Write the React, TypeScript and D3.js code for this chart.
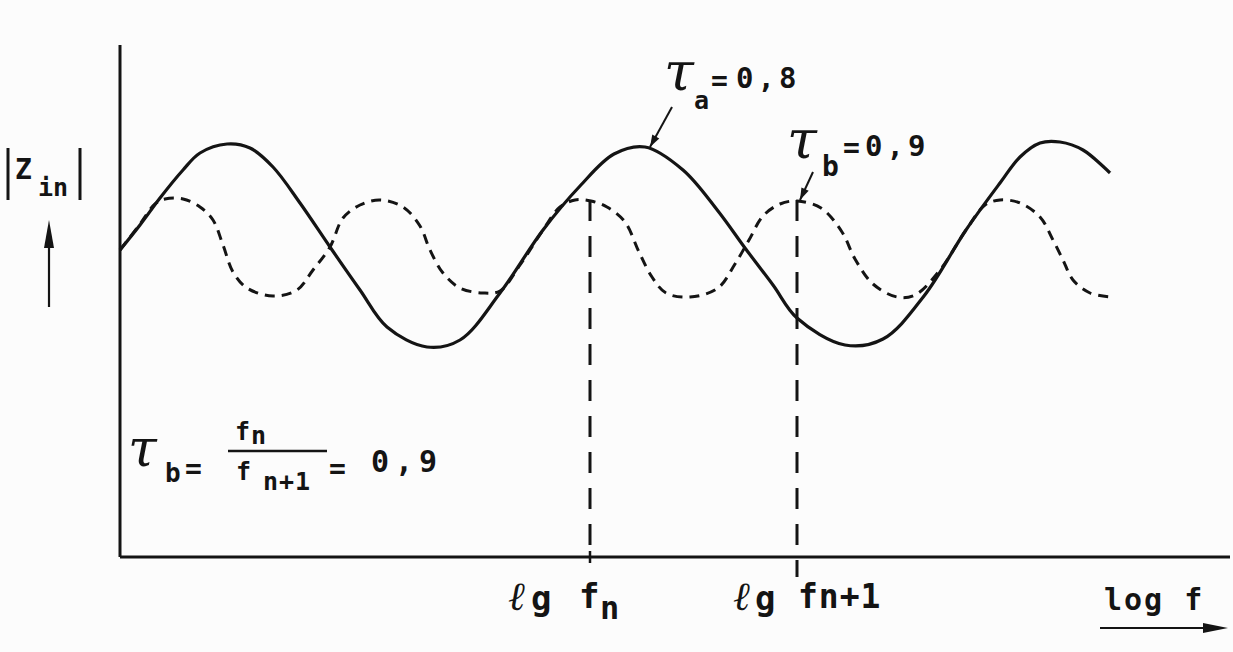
import React from "react";
import * as d3 from "d3";

// x: log f (arbitrary units), y: |Z_in| (arbitrary units)
const solidCurve: [number, number][] = [
  [0, 307], [20, 332], [40, 359], [63, 387], [80, 404], [107, 413], [130, 409], [153, 390],
  [180, 354], [210, 310], [240, 267], [267, 230], [307, 210], [340, 217], [380, 264], [423, 327],
  [460, 371], [494, 403], [525, 410], [563, 387], [598, 346], [625, 309], [653, 272], [677, 239],
  [725, 212], [763, 218], [804, 261], [846, 327], [880, 374], [900, 400], [920, 414], [940, 415],
  [963, 407], [990, 384],
];

const dashedCurve: [number, number][] = [
  [0, 307], [20, 333], [35, 353], [45, 358], [63, 358], [80, 350], [93, 337], [103, 312],
  [113, 285], [127, 269], [153, 261], [177, 267], [193, 287], [210, 310], [223, 339], [240, 352],
  [260, 357], [283, 350], [300, 331], [310, 307], [323, 284], [340, 269], [363, 264], [380, 266],
  [400, 292], [423, 327], [440, 350], [455, 357], [471, 356], [487, 350], [505, 335], [519, 305],
  [532, 280], [546, 264], [570, 260], [598, 269], [615, 293], [629, 317], [643, 341], [660, 353],
  [677, 356], [701, 349], [722, 325], [735, 298], [753, 273], [777, 260], [795, 262], [820, 287],
  [846, 327], [865, 352], [880, 357], [900, 354], [920, 340], [933, 317], [943, 297], [953, 277],
  [970, 264], [990, 260],
];

const fnX = 470;      // lg fn
const fn1X = 677;     // lg fn+1
const peakDashed = 357;

const xDomain = [0, 1110];
const yDomain = [0, 512];

const INK = "#141414";

function arrowHead(x1: number, y1: number, x2: number, y2: number, len: number, half: number) {
  const a = Math.atan2(y2 - y1, x2 - x1);
  const bx = x2 - len * Math.cos(a);
  const by = y2 - len * Math.sin(a);
  const px = -Math.sin(a) * half;
  const py = Math.cos(a) * half;
  return `M${x2},${y2}L${bx + px},${by + py}L${bx - px},${by - py}Z`;
}

export default function App() {
  const x = d3.scaleLinear().domain(xDomain).range([120, 1230]);
  const y = d3.scaleLinear().domain(yDomain).range([557, 45]);

  const line = d3
    .line<[number, number]>()
    .x((d) => x(d[0]))
    .y((d) => y(d[1]))
    .curve(d3.curveCatmullRom.alpha(0.5));

  const mono = "'DejaVu Sans Mono', monospace";
  const tauFont = "'DejaVu Serif', serif";
  const T = { fontFamily: mono, fontWeight: "bold" as const, fill: INK };
  const L = { fontFamily: tauFont, fontStyle: "italic" as const, fill: INK };

  // leader lines (data units)
  const la = { x1: x(552), y1: y(450), x2: x(530), y2: y(410) };
  const lb = { x1: x(693), y1: y(385), x2: x(680), y2: y(357) };

  return (
    <svg
      width={1233}
      height={652}
      style={{ position: "absolute", left: 0, top: 0, background: "#fcfcfc" }}
    >
      {/* axes */}
      <line x1={x(0)} y1={y(0)} x2={x(0)} y2={y(512)} stroke={INK} strokeWidth={3} />
      <line x1={x(0)} y1={y(0)} x2={x(1110)} y2={y(0)} stroke={INK} strokeWidth={3} />
      {/* tick at fn */}
      <line x1={x(fnX)} y1={y(0) - 6} x2={x(fnX)} y2={y(0) + 6} stroke={INK} strokeWidth={2.5} />

      {/* vertical reference lines */}
      <line
        x1={x(fnX)} y1={y(peakDashed)} x2={x(fnX)} y2={y(0)}
        stroke={INK} strokeWidth={3} strokeDasharray="21,15"
      />
      <line
        x1={x(fn1X)} y1={y(peakDashed)} x2={x(fn1X)} y2={y(0) + 20}
        stroke={INK} strokeWidth={3} strokeDasharray="21,15"
      />

      {/* curves */}
      <path d={line(dashedCurve) || ""} fill="none" stroke={INK} strokeWidth={3} strokeDasharray="10,7" />
      <path d={line(solidCurve) || ""} fill="none" stroke={INK} strokeWidth={3.2} />

      {/* leaders */}
      <line x1={la.x1} y1={la.y1} x2={la.x2} y2={la.y2} stroke={INK} strokeWidth={2} />
      <path d={arrowHead(la.x1, la.y1, la.x2, la.y2, 12, 4)} fill={INK} />
      <line x1={lb.x1} y1={lb.y1} x2={lb.x2} y2={lb.y2} stroke={INK} strokeWidth={2} />
      <path d={arrowHead(lb.x1, lb.y1, lb.x2, lb.y2, 12, 4)} fill={INK} />

      {/* y-axis label |Z in| */}
      <line x1={8} y1={148} x2={8} y2={200} stroke={INK} strokeWidth={3} />
      <line x1={80} y1={148} x2={80} y2={200} stroke={INK} strokeWidth={3} />
      <text x={15} y={179} fontSize={28} {...T}>Z</text>
      <text x={38} y={196} fontSize={25} {...T}>in</text>
      <line x1={49} y1={307} x2={49} y2={240} stroke={INK} strokeWidth={2.2} />
      <path d="M44,248L49,220L54,248Z" fill={INK} />

      {/* tau_a = 0,8 */}
      <text x={664} y={90} fontSize={54} {...L}>τ</text>
      <text x={694} y={109} fontSize={25} {...T}>a</text>
      <text x={711} y={90} fontSize={28} {...T}>=</text>
      <text x={736} y={88} fontSize={29} letterSpacing={4} {...T}>0,8</text>

      {/* tau_b = 0,9 */}
      <text x={787} y={158} fontSize={54} {...L}>τ</text>
      <text x={822} y={176} fontSize={28} {...T}>b</text>
      <text x={843} y={157} fontSize={28} {...T}>=</text>
      <text x={865} y={156} fontSize={29} letterSpacing={4} {...T}>0,9</text>

      {/* formula tau_b = fn / fn+1 = 0,9 */}
      <text x={128} y={466} fontSize={52} {...L}>τ</text>
      <text x={165} y={482} fontSize={26} {...T}>b</text>
      <text x={185} y={478} fontSize={28} {...T}>=</text>
      <text x={235} y={440} fontSize={25} {...T}>f</text>
      <text x={251} y={444} fontSize={25} {...T}>n</text>
      <line x1={228} y1={451} x2={327} y2={451} stroke={INK} strokeWidth={2.5} />
      <text x={236} y={480} fontSize={25} {...T}>f</text>
      <text x={263} y={490} fontSize={25} letterSpacing={1} {...T}>n+1</text>
      <text x={329} y={478} fontSize={28} {...T}>=</text>
      <text x={371} y={472} fontSize={30} letterSpacing={6} {...T}>0,9</text>

      {/* x tick labels */}
      <text x={508} y={610} fontSize={40} {...L}>ℓ</text>
      <text x={531} y={610} fontSize={34} {...T}>g</text>
      <text x={579} y={608} fontSize={34} {...T}>f</text>
      <text x={600} y={619} fontSize={32} {...T}>n</text>
      <text x={733} y={610} fontSize={40} {...L}>ℓ</text>
      <text x={755} y={610} fontSize={34} {...T}>g</text>
      <text x={798} y={608} fontSize={33} letterSpacing={1} {...T}>fn+1</text>

      {/* x axis title */}
      <text x={1104} y={610} fontSize={30} letterSpacing={2} {...T}>log f</text>
      <line x1={1100} y1={628} x2={1210} y2={628} stroke={INK} strokeWidth={2.2} />
      <path d="M1203,623L1228,628L1203,633Z" fill={INK} />
    </svg>
  );
}
